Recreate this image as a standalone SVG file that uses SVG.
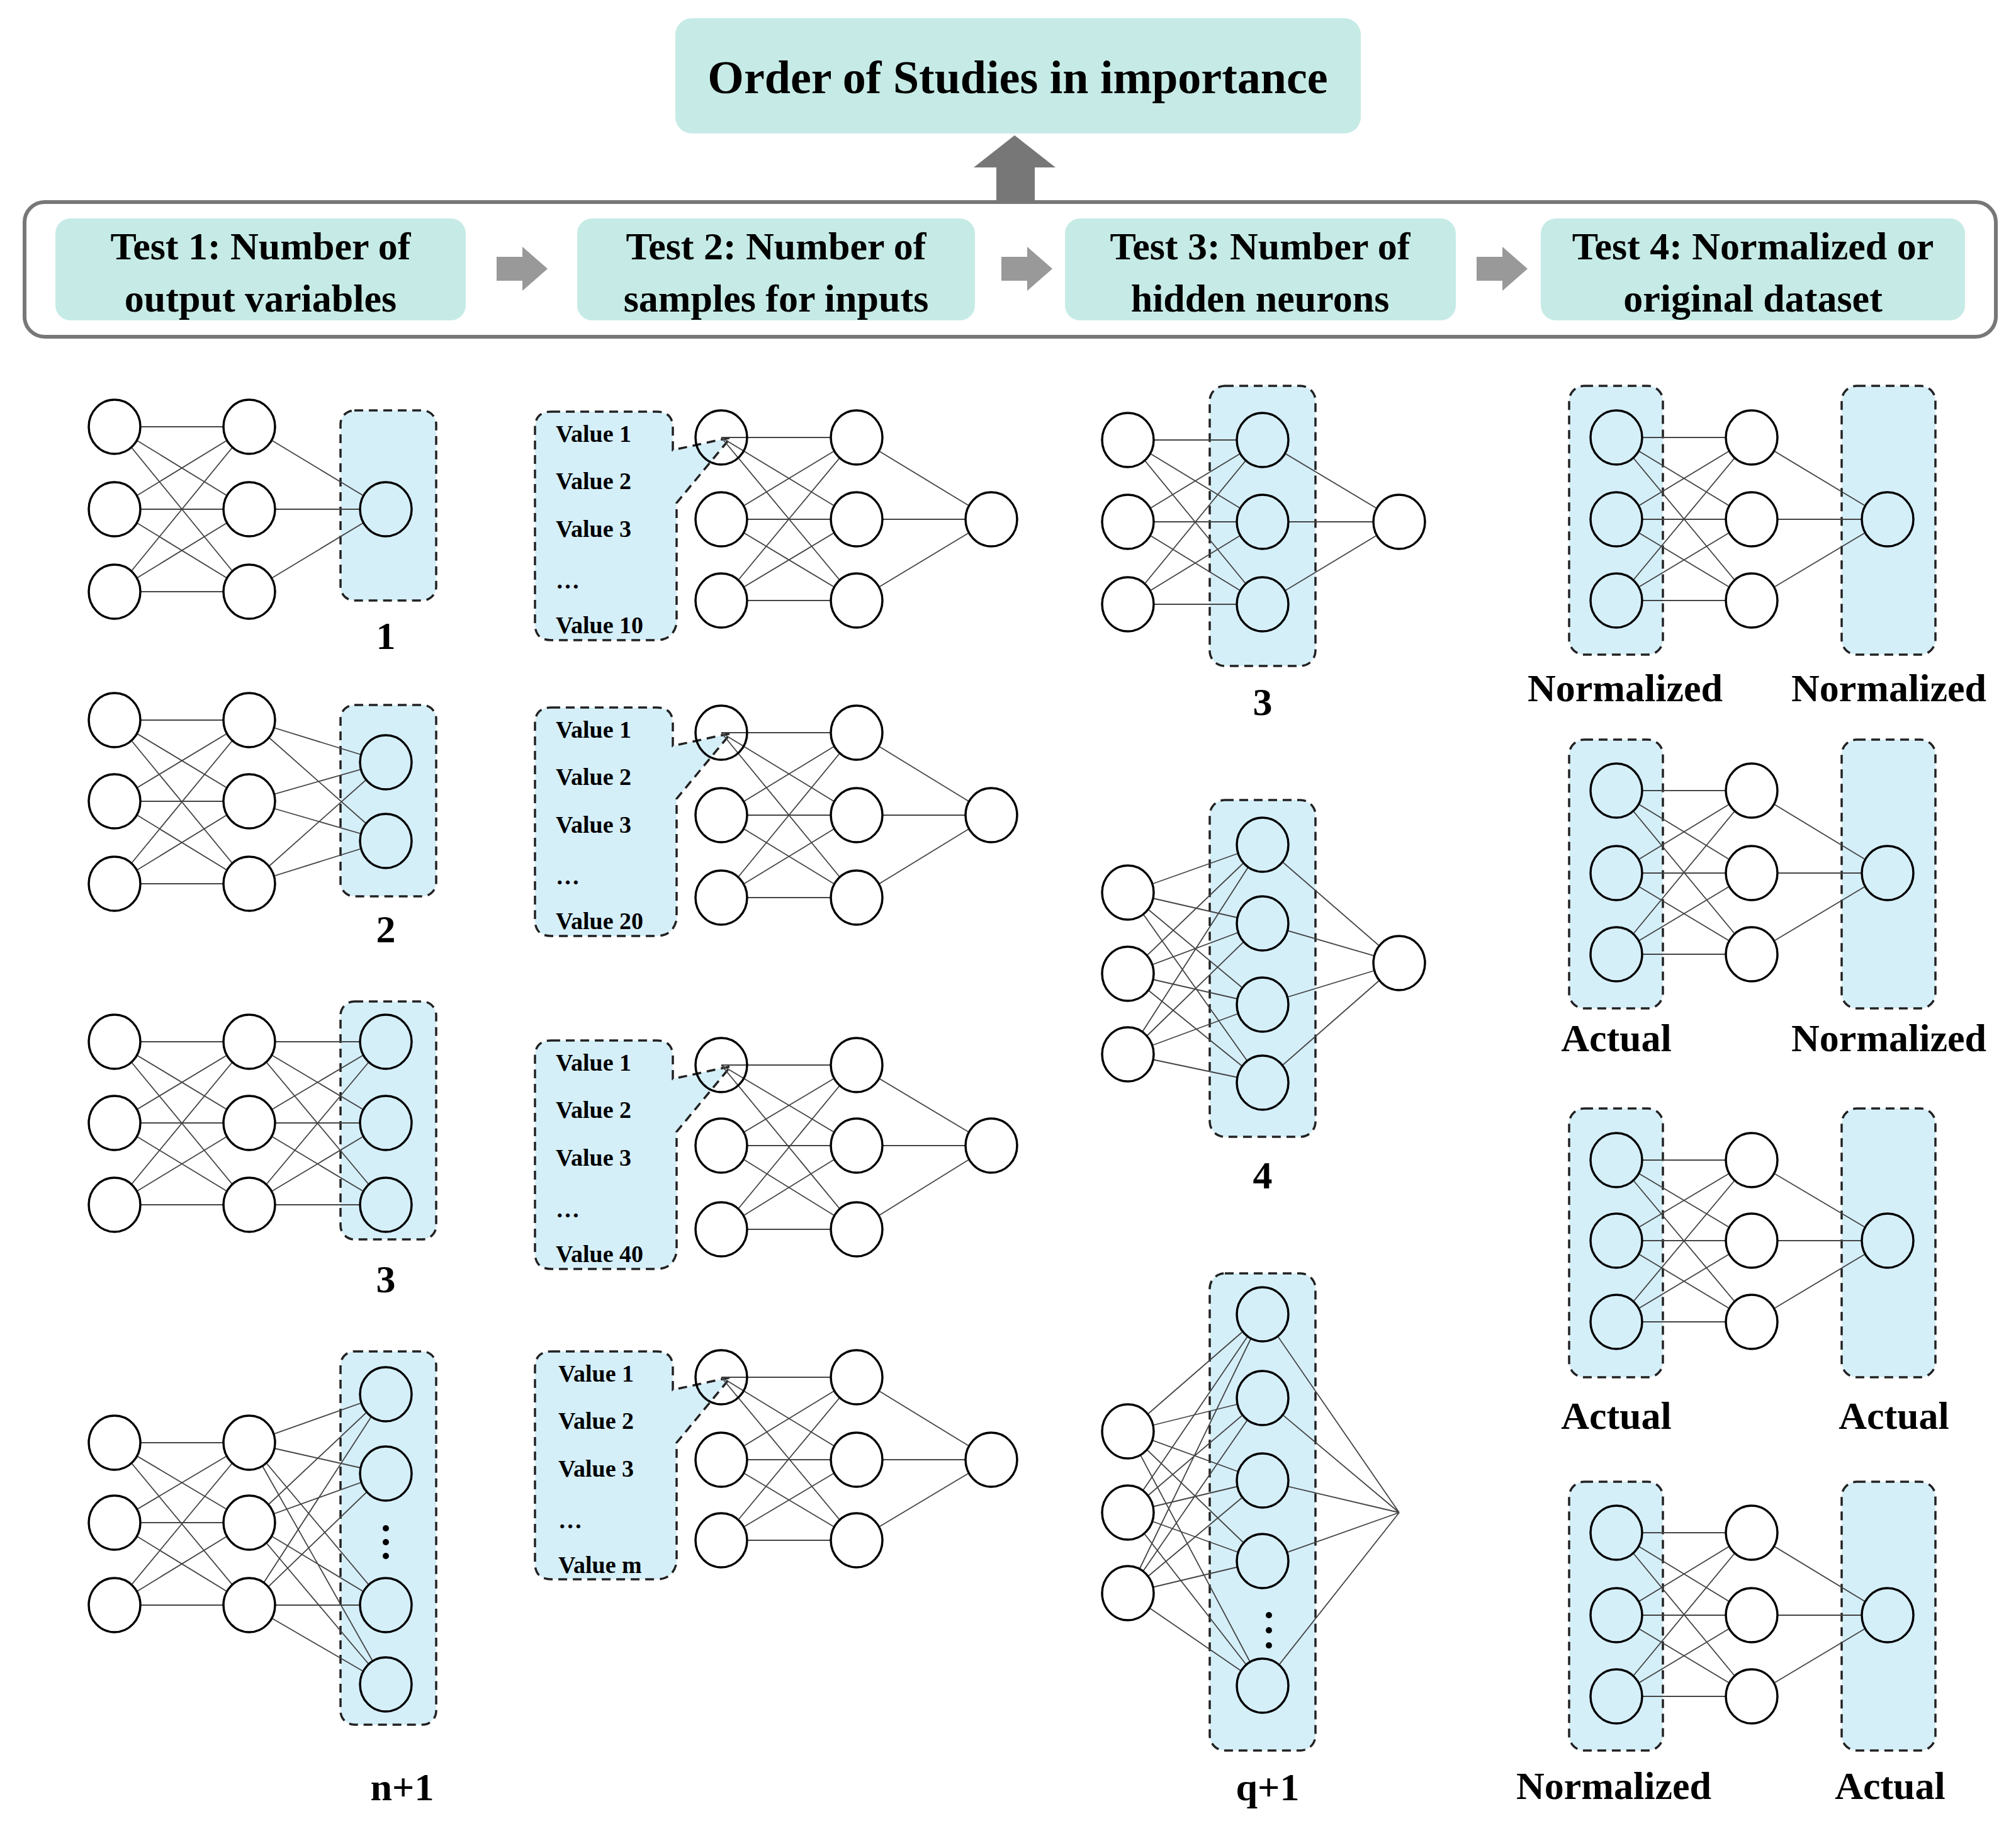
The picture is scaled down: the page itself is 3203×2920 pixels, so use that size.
<svg xmlns="http://www.w3.org/2000/svg" xmlns:xlink="http://www.w3.org/1999/xlink" width="3203" height="2920" viewBox="0 0 3203 2920">
<style>
text{font-family:"Liberation Serif","Times New Roman",serif;font-weight:bold;fill:#000}
.t{font-size:62px;text-anchor:middle}
.v{font-size:38px}
.ttl{font-size:74px;text-anchor:middle}
.tb{fill:#c6ebe6}
.db{fill:#d5eff9;stroke:#222;stroke-width:3.5;stroke-dasharray:14 9}
.n{fill:#fff;stroke:#000;stroke-width:3.5}
.nb{fill:#d5eff9;stroke:#000;stroke-width:3.5}
.w{fill:none;stroke:#444;stroke-width:1.8}
.ar{fill:#999}
.dot{fill:#000}
</style>
<defs>
<path id="arr" d="M0 16H41V0L81 35L41 70V54H0Z"/>
</defs>
<rect width="3203" height="2920" fill="#fff"/>
<g id="title"><rect x="1073" y="29" width="1089" height="183" rx="26" class="tb"/><text x="1617" y="148" class="ttl">Order of Studies in importance</text></g>
<polygon points="1583,322 1583,266 1547,266 1612,215 1677,266 1644,266 1644,322" fill="#777"/>
<rect x="39" y="321" width="3132" height="214" rx="32" fill="none" stroke="#777" stroke-width="6"/>
<g id="test1"><rect x="88" y="347" width="652" height="162" rx="24" class="tb"/><text x="414" y="412" class="t">Test 1: Number of</text><text x="414" y="495" class="t">output variables</text></g>
<g id="test2"><rect x="917" y="347" width="632" height="162" rx="24" class="tb"/><text x="1233" y="412" class="t">Test 2: Number of</text><text x="1233" y="495" class="t">samples for inputs</text></g>
<g id="test3"><rect x="1692" y="347" width="621" height="162" rx="24" class="tb"/><text x="2002" y="412" class="t">Test 3: Number of</text><text x="2002" y="495" class="t">hidden neurons</text></g>
<g id="test4"><rect x="2448" y="347" width="674" height="162" rx="24" class="tb"/><text x="2785" y="412" class="t">Test 4: Normalized or</text><text x="2785" y="495" class="t">original dataset</text></g>
<g id="connectors">
<use href="#arr" x="789" y="392" class="ar"/>
<use href="#arr" x="1591" y="392" class="ar"/>
<use href="#arr" x="2346" y="392" class="ar"/>
</g>

<!-- Test 1 panels -->
<g id="t1p1">
<rect x="541" y="652" width="152" height="302" rx="22" class="db"/>
<path class="w" d="M182 678L396 678M182 678L396 809M182 678L396 940M182 809L396 678M182 809L396 809M182 809L396 940M182 940L396 678M182 940L396 809M182 940L396 940M396 678L613 809M396 809L613 809M396 940L613 809"/>
<ellipse class="n" cx="182" cy="678" rx="41" ry="43"/><ellipse class="n" cx="182" cy="809" rx="41" ry="43"/><ellipse class="n" cx="182" cy="940" rx="41" ry="43"/>
<ellipse class="n" cx="396" cy="678" rx="41" ry="43"/><ellipse class="n" cx="396" cy="809" rx="41" ry="43"/><ellipse class="n" cx="396" cy="940" rx="41" ry="43"/>
<ellipse class="nb" cx="613" cy="809" rx="41" ry="43"/>
<text x="613" y="1031" class="t">1</text>
</g>
<g id="t1p2">
<rect x="541" y="1120" width="152" height="304" rx="22" class="db"/>
<path class="w" d="M182 1144L396 1144M182 1144L396 1273M182 1144L396 1404M182 1273L396 1144M182 1273L396 1273M182 1273L396 1404M182 1404L396 1144M182 1404L396 1273M182 1404L396 1404M396 1144L613 1211M396 1144L613 1336M396 1273L613 1211M396 1273L613 1336M396 1404L613 1211M396 1404L613 1336"/>
<ellipse class="n" cx="182" cy="1144" rx="41" ry="43"/><ellipse class="n" cx="182" cy="1273" rx="41" ry="43"/><ellipse class="n" cx="182" cy="1404" rx="41" ry="43"/>
<ellipse class="n" cx="396" cy="1144" rx="41" ry="43"/><ellipse class="n" cx="396" cy="1273" rx="41" ry="43"/><ellipse class="n" cx="396" cy="1404" rx="41" ry="43"/>
<ellipse class="nb" cx="613" cy="1211" rx="41" ry="43"/><ellipse class="nb" cx="613" cy="1336" rx="41" ry="43"/>
<text x="613" y="1497" class="t">2</text>
</g>
<g id="t1p3">
<rect x="541" y="1591" width="152" height="378" rx="22" class="db"/>
<path class="w" d="M182 1655L396 1655M182 1655L396 1784M182 1655L396 1914M182 1784L396 1655M182 1784L396 1784M182 1784L396 1914M182 1914L396 1655M182 1914L396 1784M182 1914L396 1914M396 1655L613 1655M396 1655L613 1784M396 1655L613 1914M396 1784L613 1655M396 1784L613 1784M396 1784L613 1914M396 1914L613 1655M396 1914L613 1784M396 1914L613 1914"/>
<ellipse class="n" cx="182" cy="1655" rx="41" ry="43"/><ellipse class="n" cx="182" cy="1784" rx="41" ry="43"/><ellipse class="n" cx="182" cy="1914" rx="41" ry="43"/>
<ellipse class="n" cx="396" cy="1655" rx="41" ry="43"/><ellipse class="n" cx="396" cy="1784" rx="41" ry="43"/><ellipse class="n" cx="396" cy="1914" rx="41" ry="43"/>
<ellipse class="nb" cx="613" cy="1655" rx="41" ry="43"/><ellipse class="nb" cx="613" cy="1784" rx="41" ry="43"/><ellipse class="nb" cx="613" cy="1914" rx="41" ry="43"/>
<text x="613" y="2053" class="t">3</text>
</g>
<g id="t1p4">
<rect x="541" y="2147" width="152" height="593" rx="22" class="db"/>
<path class="w" d="M182 2292L396 2292M182 2292L396 2419M182 2292L396 2550M182 2419L396 2292M182 2419L396 2419M182 2419L396 2550M182 2550L396 2292M182 2550L396 2419M182 2550L396 2550M396 2292L613 2215M396 2292L613 2341M396 2292L613 2550M396 2292L613 2676M396 2419L613 2215M396 2419L613 2341M396 2419L613 2550M396 2419L613 2676M396 2550L613 2215M396 2550L613 2341M396 2550L613 2550M396 2550L613 2676"/>
<ellipse class="n" cx="182" cy="2292" rx="41" ry="43"/><ellipse class="n" cx="182" cy="2419" rx="41" ry="43"/><ellipse class="n" cx="182" cy="2550" rx="41" ry="43"/>
<ellipse class="n" cx="396" cy="2292" rx="41" ry="43"/><ellipse class="n" cx="396" cy="2419" rx="41" ry="43"/><ellipse class="n" cx="396" cy="2550" rx="41" ry="43"/>
<ellipse class="nb" cx="613" cy="2215" rx="41" ry="43"/><ellipse class="nb" cx="613" cy="2341" rx="41" ry="43"/><ellipse class="nb" cx="613" cy="2550" rx="41" ry="43"/><ellipse class="nb" cx="613" cy="2676" rx="41" ry="43"/>
<circle class="dot" cx="613" cy="2428" r="5"/><circle class="dot" cx="613" cy="2450" r="5"/><circle class="dot" cx="613" cy="2472" r="5"/>
<text x="639" y="2860" class="t">n+1</text>
</g>

<!-- Test 2 panels -->
<g id="t2p1">
<path class="db" d="M876 654H1043Q1069 654 1069 680V715L1161 695L1075 799V991Q1069 1017 1043 1017H876Q850 1017 850 991V680Q850 654 876 654Z"/>
<path class="w" d="M1146 695L1361 695M1146 695L1361 825M1146 695L1361 954M1146 825L1361 695M1146 825L1361 825M1146 825L1361 954M1146 954L1361 695M1146 954L1361 825M1146 954L1361 954M1361 695L1575 825M1361 825L1575 825M1361 954L1575 825"/>
<ellipse class="n" cx="1146" cy="695" rx="41" ry="43" fill-opacity="0"/><ellipse class="n" cx="1146" cy="825" rx="41" ry="43"/><ellipse class="n" cx="1146" cy="954" rx="41" ry="43"/>
<ellipse class="n" cx="1361" cy="695" rx="41" ry="43"/><ellipse class="n" cx="1361" cy="825" rx="41" ry="43"/><ellipse class="n" cx="1361" cy="954" rx="41" ry="43"/>
<ellipse class="n" cx="1575" cy="825" rx="41" ry="43"/>
<text x="883" y="702" class="v">Value 1</text><text x="883" y="777" class="v">Value 2</text><text x="883" y="853" class="v">Value 3</text><text x="883" y="935" class="v">…</text><text x="883" y="1006" class="v">Value 10</text>
</g>
<g id="t2p2">
<path class="db" d="M876 1124H1043Q1069 1124 1069 1150V1185L1161 1165L1075 1269V1461Q1069 1487 1043 1487H876Q850 1487 850 1461V1150Q850 1124 876 1124Z"/>
<path class="w" d="M1146 1164L1361 1164M1146 1164L1361 1295M1146 1164L1361 1426M1146 1295L1361 1164M1146 1295L1361 1295M1146 1295L1361 1426M1146 1426L1361 1164M1146 1426L1361 1295M1146 1426L1361 1426M1361 1164L1575 1295M1361 1295L1575 1295M1361 1426L1575 1295"/>
<ellipse class="n" cx="1146" cy="1164" rx="41" ry="43" fill-opacity="0"/><ellipse class="n" cx="1146" cy="1295" rx="41" ry="43"/><ellipse class="n" cx="1146" cy="1426" rx="41" ry="43"/>
<ellipse class="n" cx="1361" cy="1164" rx="41" ry="43"/><ellipse class="n" cx="1361" cy="1295" rx="41" ry="43"/><ellipse class="n" cx="1361" cy="1426" rx="41" ry="43"/>
<ellipse class="n" cx="1575" cy="1295" rx="41" ry="43"/>
<text x="883" y="1172" class="v">Value 1</text><text x="883" y="1247" class="v">Value 2</text><text x="883" y="1323" class="v">Value 3</text><text x="883" y="1405" class="v">…</text><text x="883" y="1476" class="v">Value 20</text>
</g>
<g id="t2p3">
<path class="db" d="M876 1653H1043Q1069 1653 1069 1679V1714L1161 1694L1075 1798V1990Q1069 2016 1043 2016H876Q850 2016 850 1990V1679Q850 1653 876 1653Z"/>
<path class="w" d="M1146 1692L1361 1692M1146 1692L1361 1820M1146 1692L1361 1953M1146 1820L1361 1692M1146 1820L1361 1820M1146 1820L1361 1953M1146 1953L1361 1692M1146 1953L1361 1820M1146 1953L1361 1953M1361 1692L1575 1820M1361 1820L1575 1820M1361 1953L1575 1820"/>
<ellipse class="n" cx="1146" cy="1692" rx="41" ry="43" fill-opacity="0"/><ellipse class="n" cx="1146" cy="1820" rx="41" ry="43"/><ellipse class="n" cx="1146" cy="1953" rx="41" ry="43"/>
<ellipse class="n" cx="1361" cy="1692" rx="41" ry="43"/><ellipse class="n" cx="1361" cy="1820" rx="41" ry="43"/><ellipse class="n" cx="1361" cy="1953" rx="41" ry="43"/>
<ellipse class="n" cx="1575" cy="1820" rx="41" ry="43"/>
<text x="883" y="1701" class="v">Value 1</text><text x="883" y="1776" class="v">Value 2</text><text x="883" y="1852" class="v">Value 3</text><text x="883" y="1934" class="v">…</text><text x="883" y="2005" class="v">Value 40</text>
</g>
<g id="t2p4">
<path class="db" d="M876 2147H1043Q1069 2147 1069 2173V2208L1161 2188L1075 2292V2483Q1069 2509 1043 2509H876Q850 2509 850 2483V2173Q850 2147 876 2147Z"/>
<path class="w" d="M1146 2188L1361 2188M1146 2188L1361 2319M1146 2188L1361 2447M1146 2319L1361 2188M1146 2319L1361 2319M1146 2319L1361 2447M1146 2447L1361 2188M1146 2447L1361 2319M1146 2447L1361 2447M1361 2188L1575 2319M1361 2319L1575 2319M1361 2447L1575 2319"/>
<ellipse class="n" cx="1146" cy="2188" rx="41" ry="43" fill-opacity="0"/><ellipse class="n" cx="1146" cy="2319" rx="41" ry="43"/><ellipse class="n" cx="1146" cy="2447" rx="41" ry="43"/>
<ellipse class="n" cx="1361" cy="2188" rx="41" ry="43"/><ellipse class="n" cx="1361" cy="2319" rx="41" ry="43"/><ellipse class="n" cx="1361" cy="2447" rx="41" ry="43"/>
<ellipse class="n" cx="1575" cy="2319" rx="41" ry="43"/>
<text x="887" y="2195" class="v">Value 1</text><text x="887" y="2270" class="v">Value 2</text><text x="887" y="2346" class="v">Value 3</text><text x="887" y="2428" class="v">…</text><text x="887" y="2499" class="v">Value m</text>
</g>

<!-- Test 3 panels -->
<g id="t3p1">
<rect x="1922" y="613" width="168" height="445" rx="24" class="db"/>
<path class="w" d="M1792 699L2006 699M1792 699L2006 829M1792 699L2006 960M1792 829L2006 699M1792 829L2006 829M1792 829L2006 960M1792 960L2006 699M1792 960L2006 829M1792 960L2006 960M2006 699L2223 829M2006 829L2223 829M2006 960L2223 829"/>
<ellipse class="n" cx="1792" cy="699" rx="41" ry="43"/><ellipse class="n" cx="1792" cy="829" rx="41" ry="43"/><ellipse class="n" cx="1792" cy="960" rx="41" ry="43"/>
<ellipse class="nb" cx="2006" cy="699" rx="41" ry="43"/><ellipse class="nb" cx="2006" cy="829" rx="41" ry="43"/><ellipse class="nb" cx="2006" cy="960" rx="41" ry="43"/>
<ellipse class="n" cx="2223" cy="829" rx="41" ry="43"/>
<text x="2006" y="1136" class="t">3</text>
</g>
<g id="t3p2">
<rect x="1922" y="1271" width="168" height="535" rx="24" class="db"/>
<path class="w" d="M1792 1418L2006 1342M1792 1418L2006 1467M1792 1418L2006 1596M1792 1418L2006 1720M1792 1547L2006 1342M1792 1547L2006 1467M1792 1547L2006 1596M1792 1547L2006 1720M1792 1675L2006 1342M1792 1675L2006 1467M1792 1675L2006 1596M1792 1675L2006 1720M2006 1342L2223 1530M2006 1467L2223 1530M2006 1596L2223 1530M2006 1720L2223 1530"/>
<ellipse class="n" cx="1792" cy="1418" rx="41" ry="43"/><ellipse class="n" cx="1792" cy="1547" rx="41" ry="43"/><ellipse class="n" cx="1792" cy="1675" rx="41" ry="43"/>
<ellipse class="nb" cx="2006" cy="1342" rx="41" ry="43"/><ellipse class="nb" cx="2006" cy="1467" rx="41" ry="43"/><ellipse class="nb" cx="2006" cy="1596" rx="41" ry="43"/><ellipse class="nb" cx="2006" cy="1720" rx="41" ry="43"/>
<ellipse class="n" cx="2223" cy="1530" rx="41" ry="43"/>
<text x="2006" y="1888" class="t">4</text>
</g>
<g id="t3p3">
<rect x="1922" y="2023" width="168" height="758" rx="24" class="db"/>
<path class="w" d="M1792 2274L2006 2088M1792 2274L2006 2221M1792 2274L2006 2352M1792 2274L2006 2480M1792 2274L2006 2678M1792 2403L2006 2088M1792 2403L2006 2221M1792 2403L2006 2352M1792 2403L2006 2480M1792 2403L2006 2678M1792 2531L2006 2088M1792 2531L2006 2221M1792 2531L2006 2352M1792 2531L2006 2480M1792 2531L2006 2678M2006 2088L2223 2403M2006 2221L2223 2403M2006 2352L2223 2403M2006 2480L2223 2403M2006 2678L2223 2403"/>
<ellipse class="n" cx="1792" cy="2274" rx="41" ry="43"/><ellipse class="n" cx="1792" cy="2403" rx="41" ry="43"/><ellipse class="n" cx="1792" cy="2531" rx="41" ry="43"/>
<ellipse class="nb" cx="2006" cy="2088" rx="41" ry="43"/><ellipse class="nb" cx="2006" cy="2221" rx="41" ry="43"/><ellipse class="nb" cx="2006" cy="2352" rx="41" ry="43"/><ellipse class="nb" cx="2006" cy="2480" rx="41" ry="43"/><ellipse class="nb" cx="2006" cy="2678" rx="41" ry="43"/>
<circle class="dot" cx="2016" cy="2566" r="5"/><circle class="dot" cx="2016" cy="2590" r="5"/><circle class="dot" cx="2016" cy="2614" r="5"/>
<text x="2014" y="2860" class="t">q+1</text>
</g>

<!-- Test 4 panels -->
<g id="t4p1">
<rect x="2493" y="613" width="149" height="427" rx="24" class="db"/><rect x="2926" y="613" width="149" height="427" rx="24" class="db"/>
<path class="w" d="M2568 695L2783 695M2568 695L2783 825M2568 695L2783 954M2568 825L2783 695M2568 825L2783 825M2568 825L2783 954M2568 954L2783 695M2568 954L2783 825M2568 954L2783 954M2783 695L2999 825M2783 825L2999 825M2783 954L2999 825"/>
<ellipse class="nb" cx="2568" cy="695" rx="41" ry="43"/><ellipse class="nb" cx="2568" cy="825" rx="41" ry="43"/><ellipse class="nb" cx="2568" cy="954" rx="41" ry="43"/>
<ellipse class="n" cx="2783" cy="695" rx="41" ry="43"/><ellipse class="n" cx="2783" cy="825" rx="41" ry="43"/><ellipse class="n" cx="2783" cy="954" rx="41" ry="43"/>
<ellipse class="nb" cx="2999" cy="825" rx="41" ry="43"/>
<text x="2582" y="1114" class="t">Normalized</text><text x="3001" y="1114" class="t">Normalized</text>
</g>
<g id="t4p2">
<rect x="2493" y="1175" width="149" height="427" rx="24" class="db"/><rect x="2926" y="1175" width="149" height="427" rx="24" class="db"/>
<path class="w" d="M2568 1256L2783 1256M2568 1256L2783 1387M2568 1256L2783 1516M2568 1387L2783 1256M2568 1387L2783 1387M2568 1387L2783 1516M2568 1516L2783 1256M2568 1516L2783 1387M2568 1516L2783 1516M2783 1256L2999 1387M2783 1387L2999 1387M2783 1516L2999 1387"/>
<ellipse class="nb" cx="2568" cy="1256" rx="41" ry="43"/><ellipse class="nb" cx="2568" cy="1387" rx="41" ry="43"/><ellipse class="nb" cx="2568" cy="1516" rx="41" ry="43"/>
<ellipse class="n" cx="2783" cy="1256" rx="41" ry="43"/><ellipse class="n" cx="2783" cy="1387" rx="41" ry="43"/><ellipse class="n" cx="2783" cy="1516" rx="41" ry="43"/>
<ellipse class="nb" cx="2999" cy="1387" rx="41" ry="43"/>
<text x="2568" y="1670" class="t">Actual</text><text x="3001" y="1670" class="t">Normalized</text>
</g>
<g id="t4p3">
<rect x="2493" y="1761" width="149" height="427" rx="24" class="db"/><rect x="2926" y="1761" width="149" height="427" rx="24" class="db"/>
<path class="w" d="M2568 1843L2783 1843M2568 1843L2783 1971M2568 1843L2783 2100M2568 1971L2783 1843M2568 1971L2783 1971M2568 1971L2783 2100M2568 2100L2783 1843M2568 2100L2783 1971M2568 2100L2783 2100M2783 1843L2999 1971M2783 1971L2999 1971M2783 2100L2999 1971"/>
<ellipse class="nb" cx="2568" cy="1843" rx="41" ry="43"/><ellipse class="nb" cx="2568" cy="1971" rx="41" ry="43"/><ellipse class="nb" cx="2568" cy="2100" rx="41" ry="43"/>
<ellipse class="n" cx="2783" cy="1843" rx="41" ry="43"/><ellipse class="n" cx="2783" cy="1971" rx="41" ry="43"/><ellipse class="n" cx="2783" cy="2100" rx="41" ry="43"/>
<ellipse class="nb" cx="2999" cy="1971" rx="41" ry="43"/>
<text x="2568" y="2270" class="t">Actual</text><text x="3009" y="2270" class="t">Actual</text>
</g>
<g id="t4p4">
<rect x="2493" y="2354" width="149" height="427" rx="24" class="db"/><rect x="2926" y="2354" width="149" height="427" rx="24" class="db"/>
<path class="w" d="M2568 2435L2783 2435M2568 2435L2783 2566M2568 2435L2783 2695M2568 2566L2783 2435M2568 2566L2783 2566M2568 2566L2783 2695M2568 2695L2783 2435M2568 2695L2783 2566M2568 2695L2783 2695M2783 2435L2999 2566M2783 2566L2999 2566M2783 2695L2999 2566"/>
<ellipse class="nb" cx="2568" cy="2435" rx="41" ry="43"/><ellipse class="nb" cx="2568" cy="2566" rx="41" ry="43"/><ellipse class="nb" cx="2568" cy="2695" rx="41" ry="43"/>
<ellipse class="n" cx="2783" cy="2435" rx="41" ry="43"/><ellipse class="n" cx="2783" cy="2566" rx="41" ry="43"/><ellipse class="n" cx="2783" cy="2695" rx="41" ry="43"/>
<ellipse class="nb" cx="2999" cy="2566" rx="41" ry="43"/>
<text x="2564" y="2858" class="t">Normalized</text><text x="3003" y="2858" class="t">Actual</text>
</g>
</svg>
